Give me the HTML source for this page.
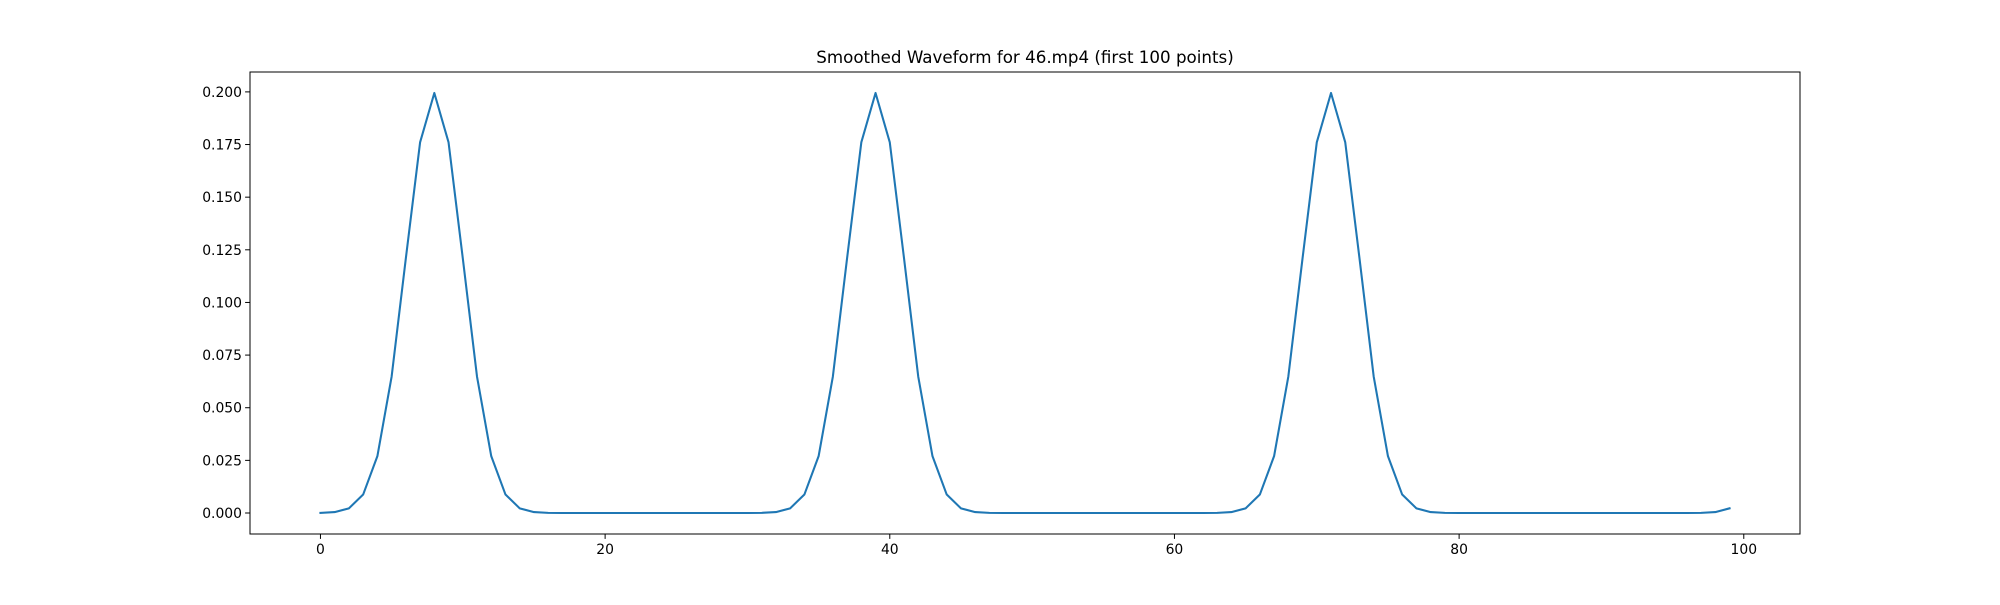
<!DOCTYPE html>
<html><head><meta charset="utf-8"><style>
html,body{margin:0;padding:0;background:#fff;}
svg text{font-family:"DejaVu Sans","Liberation Sans",sans-serif;fill:#000;}
</style></head><body>
<svg id="s" width="2000" height="600" xmlns="http://www.w3.org/2000/svg">
<rect width="2000" height="600" fill="#fff"/>
<text x="1025" y="63" font-size="16.7" text-anchor="middle">Smoothed Waveform for 46.mp4 (first 100 points)</text>
<g id="g"></g>
<rect x="250" y="72" width="1550" height="462" fill="none" stroke="#000" stroke-width="1"/>
</svg>
<script>
var L=250,R=1800,T=72,B=534,x0=-4.95,x1=103.95;
var ys=[],xs=[];
function g(x,m){return Math.exp(-(x-m)*(x-m)/8)/(2*Math.sqrt(2*Math.PI));}
for(var i=0;i<100;i++){xs.push(i);ys.push(g(i,8)+g(i,39)+g(i,71)+g(i,105));}
var mx=Math.max.apply(null,ys),mn=0,m=(mx-mn)*0.05,y0=mn-m,y1=mx+m;
function px(x){return L+(x-x0)/(x1-x0)*(R-L);}
function py(y){return T+(y1-y)/(y1-y0)*(B-T);}
var h='';
for(var t=0;t<=100;t+=20){var X=px(t);h+='<line x1="'+X+'" y1="'+B+'" x2="'+X+'" y2="'+(B+4.9)+'" stroke="#000" stroke-width="1"/>';
h+='<text x="'+X+'" y="'+(B+20)+'" font-size="13.9" text-anchor="middle">'+t+'</text>';}
for(var k=0;k<=8;k++){var v=k*0.025,Y=py(v);h+='<line x1="'+(L-4.9)+'" y1="'+Y+'" x2="'+L+'" y2="'+Y+'" stroke="#000" stroke-width="1"/>';
h+='<text x="'+(L-8)+'" y="'+(Y+5)+'" font-size="13.9" text-anchor="end">'+v.toFixed(3)+'</text>';}
var p='';for(var i=0;i<100;i++)p+=(i?'L':'M')+px(xs[i]).toFixed(2)+' '+py(ys[i]).toFixed(2);
h+='<path d="'+p+'" fill="none" stroke="#1f77b4" stroke-width="2.08" stroke-linejoin="round" stroke-linecap="square"/>';
document.getElementById('g').innerHTML=h;
</script>
</body></html>
